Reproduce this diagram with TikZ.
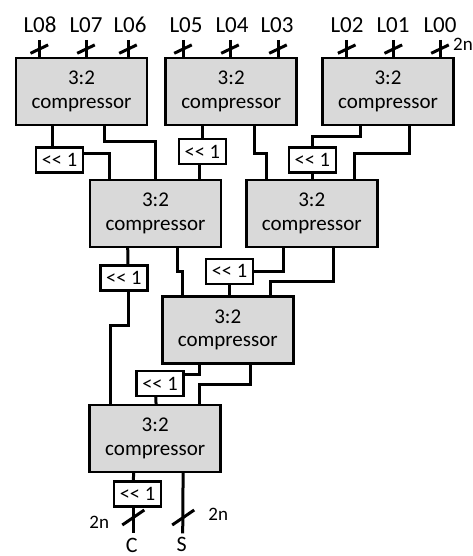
\documentclass[tikz,border=0pt]{standalone}
\usepackage{fontspec}
\setmainfont{Carlito}
\definecolor{boxgray}{HTML}{D9D9D9}
\newcommand{\shl}{<{}< 1}
\begin{document}
\begin{tikzpicture}[x=1pt,y=-1pt,
  comp/.style={draw,line width=2.6pt,fill=boxgray,minimum width=131pt,minimum height=67pt,
    inner sep=0pt,outer sep=0pt,align=center,font=\fontsize{21}{23.5}\selectfont},
  shft/.style={draw,line width=2.6pt,fill=white,minimum width=47pt,minimum height=25pt,
    inner sep=0pt,outer sep=0pt,font=\fontsize{20.5}{22}\selectfont},
  wire/.style={line width=3pt},
  inlab/.style={inner sep=0pt,anchor=base,font=\fontsize{23}{25}\selectfont},
  wlab/.style={inner sep=0pt,font=\fontsize{19}{21}\selectfont},
  outlab/.style={inner sep=0pt,anchor=base,font=\fontsize{22}{24}\selectfont}]
\useasboundingbox (0,0) rectangle (473,556);

\foreach \n/\x in {l8/39.3,l7/86,l6/128,l5/183,l4/230,l3/278,l2/346.7,l1/393.3,l0/440}{
  \coordinate (\n t) at (\x,40);
}

% compressors
\node[comp] (b1) at (81.5,91.5) {3:2\\compressor};
\node[comp] (b2) at (231.2,91.5) {3:2\\compressor};
\node[comp] (b3) at (388,91.5) {3:2\\compressor};
\node[comp] (b4) at (155.5,213.3) {3:2\\compressor};
\node[comp] (b5) at (311.8,213.3) {3:2\\compressor};
\node[comp] (b6) at (227.8,330) {3:2\\compressor};
\node[comp] (b7) at (155.2,438.5) {3:2\\compressor};

% shifters
\node[shft] (sh1) at (59.5,160) {\shl};
\node[shft] (sh2) at (202.3,151.5) {\shl};
\node[shft] (sh3) at (312.3,160) {\shl};
\node[shft] (sh4) at (123.8,278) {\shl};
\node[shft] (sh5) at (229.5,271.3) {\shl};
\node[shft] (sh6) at (160,383.5) {\shl};
\node[shft] (sh7) at (137.5,493.8) {\shl};

% input labels
\node[inlab] (l8) at (40,32.5) {L08};
\node[inlab] (l7) at (86,32.5) {L07};
\node[inlab] (l6) at (130,32.5) {L06};
\node[inlab] (l5) at (186,32.5) {L05};
\node[inlab] (l4) at (232,32.5) {L04};
\node[inlab] (l3) at (277,32.5) {L03};
\node[inlab] (l2) at (347,32.5) {L02};
\node[inlab] (l1) at (393,32.5) {L01};
\node[inlab] (l0) at (440,32.5) {L00};
\node[wlab] (n0) at (463,44) {2n};

% input wires with bus slashes
\foreach \n/\b in {l8/b1,l7/b1,l6/b1,l5/b2,l4/b2,l3/b2,l2/b3,l1/b3,l0/b3}{
  \draw[wire] (\n t) -- (\n t |- \b.north);
  \draw[wire] (\n t) ++(-8.8,13.3) -- ++(17.6,-8.4);
}

% level 1 -> 2
\draw[wire] ([xshift=36.7pt]b1.south west) -- ([xshift=16.7pt]sh1.north west);
\draw[wire] ([yshift=6.7pt]sh1.east) -| ([xshift=19pt]b4.north west);
\draw[wire] ([xshift=88.3pt]b1.south west) -- ++(0,16.7) -| (b4.north);
\draw[wire] ([xshift=36.6pt]b2.south west) -- (sh2.north);
\draw[wire] ([xshift=-3.3pt]sh2.south) -- ([xshift=109pt]b4.north west);
\draw[wire] ([xshift=88.6pt]b2.south west) -- ++(0,28.3) -| ([xshift=19.7pt]b5.north west);
\draw[wire] ([xshift=38pt]b3.south west) -- ++(0,11.7) -| (sh3.north);
\draw[wire] (sh3.south) -- (sh3.south |- b5.north);
\draw[wire] ([xshift=87.3pt]b3.south west) -- ++(0,28.3) -| ([xshift=108.3pt]b5.north west);

% level 2 -> 3
\draw[wire] ([xshift=37.7pt]b4.south west) -- ([xshift=27.7pt]sh4.north west);
\draw[wire] ([xshift=27.7pt]sh4.south west) -- ++(0,35) -| ([xshift=20.7pt]b7.north west);
\draw[wire] ([xshift=87.5pt]b4.south west) -- ++(0,25) -- ++(4.5,0) -- ([xshift=19.7pt]b6.north west);
\draw[wire] ([xshift=37.3pt]b5.south west) |- (sh5.east);
\draw[wire] (sh5.south) -- (sh5.south |- b6.north);
\draw[wire] ([xshift=87.3pt]b5.south west) -- ++(0,35) -| ([xshift=107.7pt]b6.north west);

% level 3 -> 4
\draw[wire] ([xshift=37pt]b6.south west) |- ([yshift=9.5pt]sh6.east);
\draw[wire] ([xshift=-4.3pt]sh6.south) -- ([xshift=66.4pt]b7.north west);
\draw[wire] ([xshift=87.7pt]b6.south west) -- ++(0,21) -| ([xshift=109.7pt]b7.north west);

% outputs
\coordinate (cout) at (133.3,533.3);
\coordinate (sout) at (182.7,533.3);
\draw[wire] ([xshift=44pt]b7.south west) -- ([xshift=19.3pt]sh7.north west);
\draw[wire] ([xshift=19.3pt]sh7.south west) -- (cout);
\draw[wire] (cout) ++(-11,-8.3) -- ++(22,-15);
\draw[wire] ([xshift=93.4pt]b7.south west) -- (sout);
\draw[wire] (sout) ++(-10.5,-8.3) -- ++(22,-15);
\node[wlab] (nc) at (99.3,522.7) {2n};
\node[wlab] (ns) at (218.3,514.3) {2n};
\node[outlab] (C) at (131.7,552) {C};
\node[outlab] (S) at (181.7,551.5) {S};
\end{tikzpicture}
\end{document}
